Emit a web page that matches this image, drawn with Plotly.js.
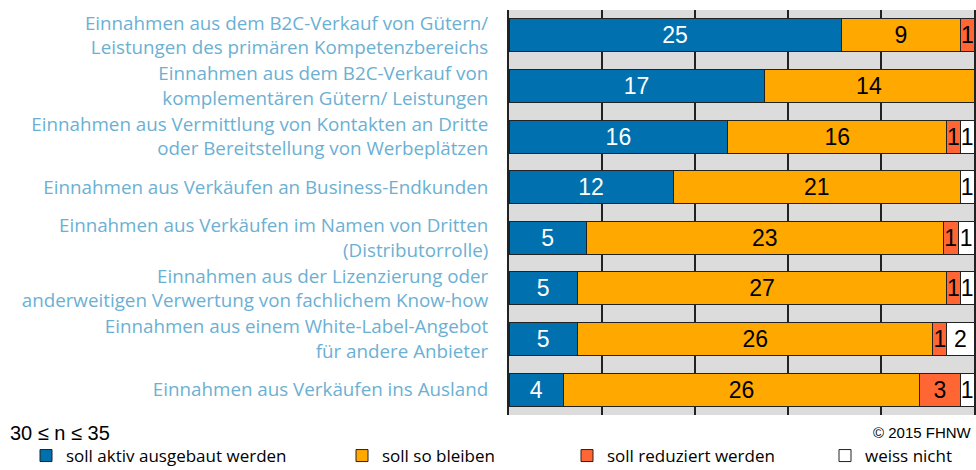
<!DOCTYPE html>
<html>
<head>
<meta charset="utf-8">
<script src="https://cdn.plot.ly/plotly-3.0.1.min.js"></script>
<style>body{margin:0;padding:0;background:#fff;}#chart{width:976px;height:470px;}</style>
</head>
<body>
<div id="chart"></div>
<script>
const categories = [
  "Einnahmen aus dem B2C-Verkauf von Gütern/<br>Leistungen des primären Kompetenzbereichs",
  "Einnahmen aus dem B2C-Verkauf von<br>komplementären Gütern/ Leistungen",
  "Einnahmen aus Vermittlung von Kontakten an Dritte<br>oder Bereitstellung von Werbeplätzen",
  "Einnahmen aus Verkäufen an Business-Endkunden",
  "Einnahmen aus Verkäufen im Namen von Dritten<br>(Distributorrolle)",
  "Einnahmen aus der Lizenzierung oder<br>anderweitigen Verwertung von fachlichem Know-how",
  "Einnahmen aus einem White-Label-Angebot<br>für andere Anbieter",
  "Einnahmen aus Verkäufen ins Ausland"
];
const seriesNames = ["soll aktiv ausgebaut werden", "soll so bleiben", "soll reduziert werden", "weiss nicht"];
const ausbauen = [25, 17, 16, 12, 5, 5, 5, 4];
const bleiben  = [9, 14, 16, 21, 23, 27, 26, 26];
const reduziert = [1, 0, 1, 0, 1, 1, 1, 3];
const weissNicht = [0, 0, 1, 1, 1, 1, 2, 1];
const sampleNote = "30 ≤ n ≤ 35";
const copyright = "© 2015 FHNW";

const seriesValues = [ausbauen, bleiben, reduziert, weissNicht];
const colors = ["#0071AE", "#FFA800", "#FF6633", "#FFFFFF"];
const textColors = ["#FFFFFF", "#000000", "#000000", "#000000"];
const legendX = [26, 342, 567, 825];
const legendIds = ["legend", "legend2", "legend3", "legend4"];

const traces = seriesValues.map((vals, i) => ({
  type: "bar",
  orientation: "h",
  name: seriesNames[i],
  y: categories,
  x: vals,
  text: vals.map(v => v > 0 ? String(v) : ""),
  textposition: "inside",
  insidetextanchor: "middle",
  textfont: {family: "Liberation Sans, Arial, sans-serif", size: 23, color: textColors[i]},
  marker: {color: colors[i], line: {color: "#222222", width: 1}},
  legend: legendIds[i],
  hoverinfo: "x+y+name"
}));

const legendFont = {family: "Open Sans, Lato, sans-serif", size: 17, color: "#000000"};
const layout = {
  width: 976, height: 470,
  margin: {l: 509, r: 2, t: 10, b: 55},
  paper_bgcolor: "#ffffff",
  plot_bgcolor: "#DCDCDC",
  barmode: "stack",
  barnorm: "fraction",
  bargap: 0.35,
  uniformtext: {mode: "show", minsize: 23},
  xaxis: {
    range: [0, 1], dtick: 0.2, tick0: 0,
    showgrid: true, gridcolor: "#222222", gridwidth: 2,
    zeroline: false, showticklabels: false, ticks: "", fixedrange: true
  },
  yaxis: {
    autorange: "reversed",
    showline: true, mirror: true, linecolor: "#222222", linewidth: 2,
    ticks: "", ticklabelstandoff: 15,
    tickfont: {family: "Open Sans, Lato, sans-serif", size: 18.8, color: "#6BB0D3"},
    showgrid: false
  },
  annotations: [
    {text: sampleNote, xref: "paper", yref: "paper", x: -1.078, y: -0.045, xanchor: "left", yanchor: "middle", showarrow: false,
     font: {family: "Liberation Sans, Arial, sans-serif", size: 20, color: "#000"}},
    {text: copyright, xref: "paper", yref: "paper", x: 1, y: -0.042, xanchor: "right", yanchor: "middle", showarrow: false,
     font: {family: "Liberation Sans, Arial, sans-serif", size: 15, color: "#000"}}
  ],
  showlegend: true
};
legendIds.forEach((id, i) => {
  layout[id] = {
    orientation: "h", xref: "container", yref: "container",
    x: legendX[i] / 976, y: 14 / 470, xanchor: "left", yanchor: "middle",
    font: legendFont, bgcolor: "rgba(0,0,0,0)"
  };
});

Plotly.newPlot("chart", traces, layout, {displayModeBar: false, staticPlot: true});
</script>
</body>
</html>
